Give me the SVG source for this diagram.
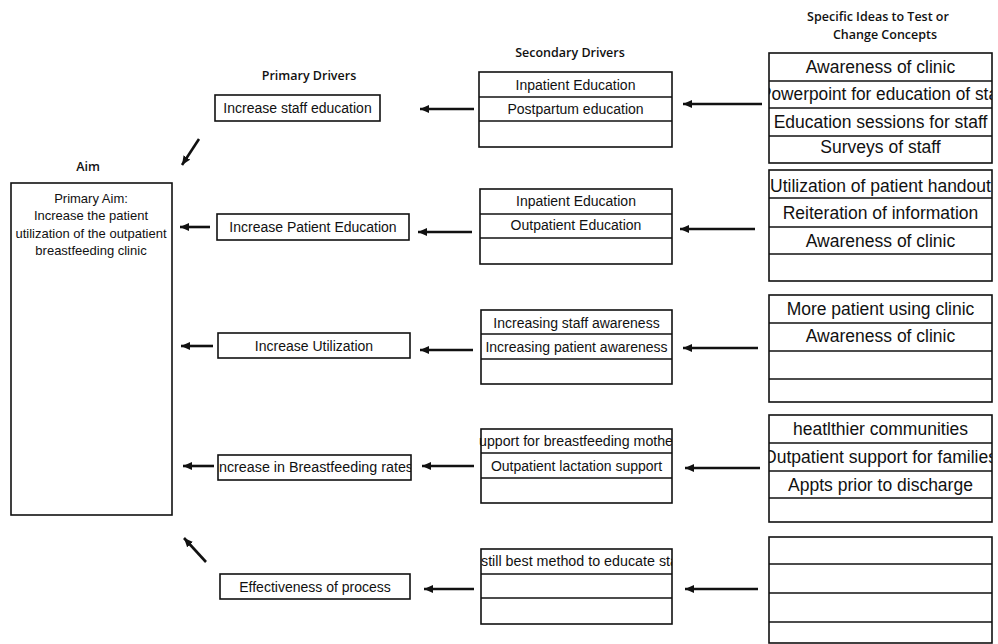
<svg xmlns="http://www.w3.org/2000/svg" width="998" height="644" viewBox="0 0 998 644">
<style>
.box{fill:#fff;stroke:#111;stroke-width:1.6}
.row{stroke:#111;stroke-width:1.6}
.hdr{font-family:"Open Sans","Noto Sans",sans-serif;font-weight:600;font-size:12.5px;fill:#111;text-anchor:middle}
.t3{font-family:"Liberation Sans",Arial,sans-serif;font-size:17.5px;fill:#111;text-anchor:middle}
.t2{font-family:"Liberation Sans",Arial,sans-serif;font-size:14px;fill:#111;text-anchor:middle}
.t1{font-family:"Liberation Sans",Arial,sans-serif;font-size:14px;fill:#111;text-anchor:middle}
.ta{font-family:"Liberation Sans",Arial,sans-serif;font-size:13px;fill:#111;text-anchor:middle}
.conn line{stroke:#111;stroke-width:2.6;marker-end:url(#ah)}
</style>
<defs>
<marker id="ah" markerUnits="userSpaceOnUse" markerWidth="10" markerHeight="8" refX="9" refY="4" orient="auto">
<path d="M0,0 L9,4 L0,8 z" fill="#111"/>
</marker>
<clipPath id="cT1"><rect x="769" y="53" width="223" height="110"/></clipPath>
<clipPath id="cT4"><rect x="769" y="415" width="223" height="107"/></clipPath>
<clipPath id="cS4"><rect x="479" y="429" width="193" height="74"/></clipPath>
<clipPath id="cS5"><rect x="479" y="549" width="193" height="75"/></clipPath>
<clipPath id="cP4"><rect x="218" y="455" width="193" height="25"/></clipPath>
</defs>
<rect width="998" height="644" fill="#fff"/>

<g id="headers">
<text class="hdr" x="88" y="171">Aim</text>
<text class="hdr" x="309" y="80">Primary Drivers</text>
<text class="hdr" x="570" y="57">Secondary Drivers</text>
<text class="hdr" x="878" y="21">Specific Ideas to Test or</text>
<text class="hdr" x="885" y="39">Change Concepts</text>
</g>

<g id="aim">
<rect class="box" x="11" y="183" width="161" height="332"/>
<text class="ta" x="91" y="203">Primary Aim:</text>
<text class="ta" x="91" y="220">Increase the patient</text>
<text class="ta" x="91" y="238">utilization of the outpatient</text>
<text class="ta" x="91" y="255">breastfeeding clinic</text>
</g>

<g id="p1"><rect class="box" x="215" y="95" width="165" height="26"/><text class="t1" x="297.5" y="113">Increase staff education</text></g>
<g id="p2"><rect class="box" x="217" y="214" width="192" height="26"/><text class="t1" x="313" y="232">Increase Patient Education</text></g>
<g id="p3"><rect class="box" x="218" y="333" width="192" height="25"/><text class="t1" x="314" y="351">Increase Utilization</text></g>
<g id="p4"><rect class="box" x="218" y="455" width="193" height="25"/><text class="t1" clip-path="url(#cP4)" x="219" y="472" style="text-anchor:start" textLength="194" lengthAdjust="spacingAndGlyphs">ncrease in Breastfeeding rates</text></g>
<g id="p5"><rect class="box" x="220" y="574" width="190" height="25"/><text class="t1" x="315" y="592">Effectiveness of process</text></g>

<g id="s1">
<rect class="box" x="479" y="72" width="193" height="75"/>
<line class="row" x1="479" y1="97" x2="672" y2="97"/><line class="row" x1="479" y1="121" x2="672" y2="121"/>
<text class="t2" x="575.5" y="90">Inpatient Education</text>
<text class="t2" x="575.5" y="114">Postpartum education</text>
</g>
<g id="s2">
<rect class="box" x="480" y="189" width="192" height="75"/>
<line class="row" x1="480" y1="214" x2="672" y2="214"/><line class="row" x1="480" y1="238" x2="672" y2="238"/>
<text class="t2" x="576" y="206">Inpatient Education</text>
<text class="t2" x="576" y="230">Outpatient Education</text>
</g>
<g id="s3">
<rect class="box" x="481" y="310" width="191" height="74"/>
<line class="row" x1="481" y1="334" x2="672" y2="334"/><line class="row" x1="481" y1="359" x2="672" y2="359"/>
<text class="t2" x="576.5" y="328">Increasing staff awareness</text>
<text class="t2" x="576.5" y="352">Increasing patient awareness</text>
</g>
<g id="s4">
<rect class="box" x="481" y="429" width="191" height="74"/>
<line class="row" x1="481" y1="453" x2="672" y2="453"/><line class="row" x1="481" y1="478" x2="672" y2="478"/>
<text class="t2" clip-path="url(#cS4)" x="479" y="446" style="text-anchor:start" textLength="194" lengthAdjust="spacingAndGlyphs">upport for breastfeeding mothe</text>
<text class="t2" x="576.5" y="471">Outpatient lactation support</text>
</g>
<g id="s5">
<rect class="box" x="481" y="549" width="191" height="75"/>
<line class="row" x1="481" y1="574" x2="672" y2="574"/><line class="row" x1="481" y1="598" x2="672" y2="598"/>
<text class="t2" clip-path="url(#cS5)" x="481" y="566" style="text-anchor:start" textLength="197" lengthAdjust="spacingAndGlyphs">still best method to educate sta</text>
</g>

<g id="t1">
<rect class="box" x="769" y="53" width="223" height="110"/>
<line class="row" x1="769" y1="81" x2="992" y2="81"/><line class="row" x1="769" y1="108" x2="992" y2="108"/><line class="row" x1="769" y1="136" x2="992" y2="136"/>
<text class="t3" x="880.5" y="73">Awareness of clinic</text>
<text class="t3" clip-path="url(#cT1)" x="760" y="100" style="text-anchor:start" textLength="238" lengthAdjust="spacingAndGlyphs">Powerpoint for education of sta</text>
<text class="t3" x="880.5" y="128">Education sessions for staff</text>
<text class="t3" x="880.5" y="153">Surveys of staff</text>
</g>
<g id="t2">
<rect class="box" x="769" y="170" width="223" height="111"/>
<line class="row" x1="769" y1="198" x2="992" y2="198"/><line class="row" x1="769" y1="227" x2="992" y2="227"/><line class="row" x1="769" y1="254" x2="992" y2="254"/>
<text class="t3" x="880.5" y="192">Utilization of patient handout</text>
<text class="t3" x="880.5" y="219">Reiteration of information</text>
<text class="t3" x="880.5" y="247">Awareness of clinic</text>
</g>
<g id="t3">
<rect class="box" x="769" y="295" width="223" height="107"/>
<line class="row" x1="769" y1="323" x2="992" y2="323"/><line class="row" x1="769" y1="351" x2="992" y2="351"/><line class="row" x1="769" y1="379" x2="992" y2="379"/>
<text class="t3" x="880.5" y="315">More patient using clinic</text>
<text class="t3" x="880.5" y="342">Awareness of clinic</text>
</g>
<g id="t4">
<rect class="box" x="769" y="415" width="223" height="107"/>
<line class="row" x1="769" y1="443" x2="992" y2="443"/><line class="row" x1="769" y1="471" x2="992" y2="471"/><line class="row" x1="769" y1="498" x2="992" y2="498"/>
<text class="t3" x="880.5" y="435">heatlthier communities</text>
<text class="t3" clip-path="url(#cT4)" x="763" y="463" style="text-anchor:start" textLength="234" lengthAdjust="spacingAndGlyphs">Outpatient support for families</text>
<text class="t3" x="880.5" y="491">Appts prior to discharge</text>
</g>
<g id="t5">
<rect class="box" x="769" y="537" width="223" height="106"/>
<line class="row" x1="769" y1="564" x2="992" y2="564"/><line class="row" x1="769" y1="593" x2="992" y2="593"/><line class="row" x1="769" y1="622" x2="992" y2="622"/>
</g>

<g id="connectors" class="conn">
<line x1="762" y1="104" x2="683" y2="104"/>
<line x1="755" y1="229" x2="680" y2="229"/>
<line x1="758" y1="348" x2="683" y2="348"/>
<line x1="760" y1="468" x2="685" y2="468"/>
<line x1="758" y1="589" x2="685" y2="589"/>
<line x1="474" y1="109" x2="420" y2="109"/>
<line x1="472" y1="232" x2="418" y2="232"/>
<line x1="473" y1="350" x2="420" y2="350"/>
<line x1="474" y1="466" x2="422" y2="466"/>
<line x1="474" y1="589" x2="424" y2="589"/>
<line x1="199" y1="139" x2="182" y2="165"/>
<line x1="210" y1="227" x2="180" y2="227"/>
<line x1="213" y1="346" x2="181" y2="346"/>
<line x1="214" y1="466" x2="183" y2="466"/>
<line x1="206" y1="562" x2="184" y2="538"/>
</g>
</svg>
